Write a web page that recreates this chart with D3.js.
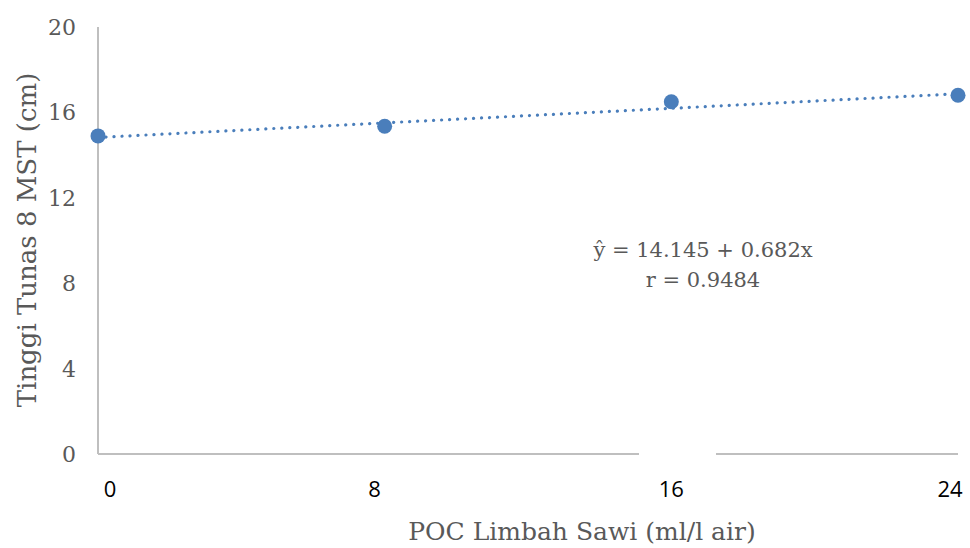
<!DOCTYPE html>
<head>
  <meta charset="utf-8">
  <title>Tinggi Tunas 8 MST</title>
</head>
<style>
  body { margin: 0; background: #fff; }
  .serif { font-family: "DejaVu Serif", serif; fill: #595959; }
  .xtick { font-family: "Open Sans", "Liberation Sans", sans-serif; fill: #000; font-size: 22px; }
</style>
<svg id="chart" width="970" height="548"></svg>
<script src="https://cdnjs.cloudflare.com/ajax/libs/d3/7.8.5/d3.min.js"></script>
<script>
  // data
  var doses = [0, 8, 16, 24];
  var heights = [14.9, 15.35, 16.5, 16.8];
  var yTicks = [0, 4, 8, 12, 16, 20];
  var xTicks = ["0", "8", "16", "24"];
  var coef = [14.145, 0.682]; // y^ = a + b x, x = treatment index 1..4
  var eqLines = ["ŷ = 14.145 + 0.682x", "r = 0.9484"];

  var svg = d3.select("#chart");
  var blue = "#4a7ebb";

  var x = d3.scaleLinear().domain([0, 24]).range([98, 958]);
  var y = d3.scaleLinear().domain([0, 20]).range([454, 27]);

  // axes lines
  svg.append("line")
    .attr("x1", x(0)).attr("x2", x(0))
    .attr("y1", y(20)).attr("y2", y(0))
    .attr("stroke", "#bfbfbf").attr("stroke-width", 2);
  svg.append("line")
    .attr("x1", x(0)).attr("x2", x(24))
    .attr("y1", y(0)).attr("y2", y(0))
    .attr("stroke", "#bfbfbf").attr("stroke-width", 2);
  // white patch over the axis near 16 (as in the source figure)
  svg.append("rect")
    .attr("x", 639).attr("y", y(0) - 3)
    .attr("width", 77).attr("height", 6)
    .attr("fill", "#fff");

  // y tick labels
  svg.selectAll(".ytick")
    .data(yTicks)
    .enter().append("text")
    .attr("class", "serif")
    .attr("x", 76)
    .attr("y", function (d) { return y(d) + 8; })
    .attr("text-anchor", "end")
    .attr("font-size", 22)
    .text(function (d) { return d; });

  // x tick labels
  svg.selectAll(".xtick")
    .data(xTicks)
    .enter().append("text")
    .attr("class", "xtick")
    .attr("x", function (d, i) {
      var px = x(doses[i]);
      if (i === 0) px += 12;
      else if (i === xTicks.length - 1) px -= 8;
      else if (i === 1) px -= 10;
      return px;
    })
    .attr("y", 497)
    .attr("text-anchor", "middle")
    .text(function (d) { return d; });

  // axis titles
  svg.append("text")
    .attr("class", "serif")
    .attr("transform", "translate(36,240) rotate(-90)")
    .attr("text-anchor", "middle")
    .attr("font-size", 26)
    .text("Tinggi Tunas 8 MST (cm)");

  svg.append("text")
    .attr("class", "serif")
    .attr("x", 582)
    .attr("y", 540)
    .attr("text-anchor", "middle")
    .attr("font-size", 25)
    .text("POC Limbah Sawi (ml/l air)");

  // trendline
  var trend = doses.map(function (d, i) {
    return [d, coef[0] + coef[1] * (i + 1)];
  });
  var ends = [trend[0], trend[trend.length - 1]];
  svg.append("path")
    .datum(ends)
    .attr("d", d3.line()
      .x(function (d) { return x(d[0]); })
      .y(function (d) { return y(d[1]); }))
    .attr("fill", "none")
    .attr("stroke", blue)
    .attr("stroke-width", 3.2)
    .attr("stroke-linecap", "round")
    .attr("stroke-dasharray", "0.1,7.9");

  // points
  svg.selectAll(".pt")
    .data(heights)
    .enter().append("circle")
    .attr("cx", function (d, i) { return x(doses[i]); })
    .attr("cy", function (d) { return y(d); })
    .attr("r", 7.5)
    .attr("fill", blue);

  // equation
  svg.selectAll(".eq")
    .data(eqLines)
    .enter().append("text")
    .attr("class", "serif")
    .attr("x", 703)
    .attr("y", function (d, i) { return 257 + i * 30; })
    .attr("text-anchor", "middle")
    .attr("font-size", 21)
    .text(function (d) { return d; });
</script>
